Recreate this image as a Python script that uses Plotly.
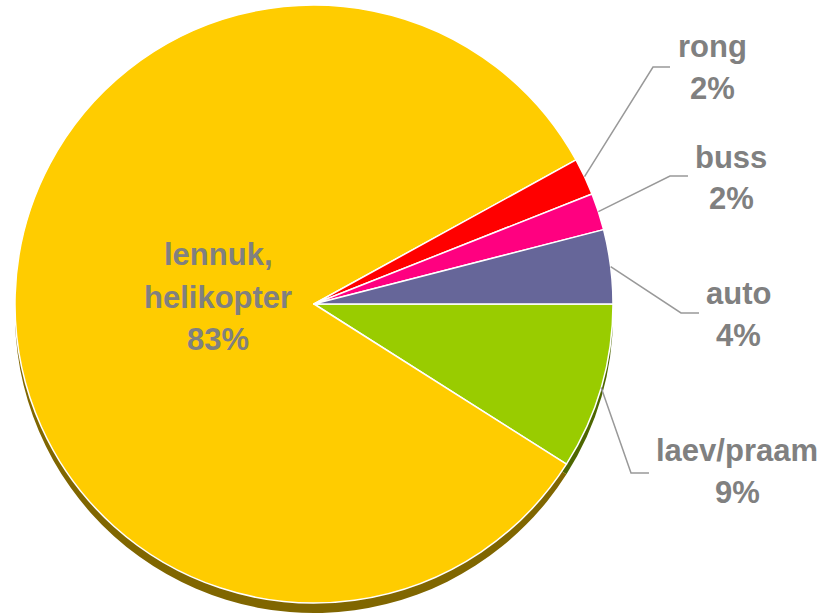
import math
import plotly.graph_objects as go

# ---- data ----
categories = ["laev/praam", "lennuk,|helikopter", "rong", "buss", "auto"]
values = [9, 83, 2, 2, 4]
pct_labels = ["9%", "83%", "2%", "2%", "4%"]
colors = ["#99CC00", "#FFCC00", "#FF0000", "#FF0080", "#666699"]
shadow_colors = ["#4D6600", "#806600", "#800000", "#800040", "#33334D"]

# ---- layout constants (pixels) ----
W, H = 824, 614
CX, CY, R = 314, 304, 299
SHADOW_DY = 10
LINE_GAP = 42
# label block centre, elbow start, elbow end (None for inside label)
label_pos = [(737, 471), (218, 297), (712, 67), (731, 178), (738, 314)]
elbow = [((631, 473), (649, 473)), None, ((653, 67), (670, 67)),
         ((670, 176), (688, 176)), ((681, 313), (699, 313))]

def px(x):
    return x / W

def py(y):
    return 1 - y / H

fig = go.Figure()

# shadow pie
fig.add_trace(go.Pie(
    values=values, labels=[c.replace("|", " ") for c in categories], sort=False,
    direction="clockwise", rotation=90, textinfo="none", hoverinfo="skip",
    showlegend=False,
    marker=dict(colors=shadow_colors, line=dict(width=0)),
    domain=dict(x=[px(CX - R), px(CX + R)],
                y=[py(CY + R + SHADOW_DY), py(CY - R + SHADOW_DY)]),
))
# main pie
fig.add_trace(go.Pie(
    values=values, labels=[c.replace("|", " ") for c in categories], sort=False,
    direction="clockwise", rotation=90, textinfo="none", showlegend=False,
    marker=dict(colors=colors, line=dict(color="white", width=1.5)),
    domain=dict(x=[px(CX - R), px(CX + R)],
                y=[py(CY + R), py(CY - R)]),
))

total = sum(values)
cum = 0.0
annotations = []
shapes = []
for i, (cat, v) in enumerate(zip(categories, values)):
    mid = -(cum + v / 2) / total * 360.0  # degrees, math convention, start at east
    cum += v
    lx, ly = label_pos[i]
    lines = cat.split("|") + [pct_labels[i]]
    n = len(lines)
    for k, line in enumerate(lines):
        yk = ly + (k - (n - 1) / 2) * LINE_GAP
        annotations.append(dict(
            x=px(lx), y=py(yk), xref="paper", yref="paper",
            text="<b>%s</b>" % line,
            showarrow=False, xanchor="center", yanchor="middle", align="center",
            font=dict(family="Liberation Sans, Arial, sans-serif", size=31, color="#808080"),
        ))
    if elbow[i] is not None:
        sx = CX + R * math.cos(math.radians(mid))
        sy = CY - R * math.sin(math.radians(mid))
        (ex1, ey1), (ex2, ey2) = elbow[i]
        shapes.append(dict(
            type="path", xref="paper", yref="paper",
            path="M %f %f L %f %f L %f %f" % (px(sx), py(sy), px(ex1), py(ey1), px(ex2), py(ey2)),
            line=dict(color="#999999", width=1.5),
        ))

fig.update_layout(
    width=W, height=H,
    margin=dict(l=0, r=0, t=0, b=0),
    paper_bgcolor="white", plot_bgcolor="white",
    annotations=annotations, shapes=shapes,
)

fig.write_html(
    "out.html",
    config={"displayModeBar": False},
    post_script="document.body.style.margin='0';document.body.style.overflow='hidden';",
)
